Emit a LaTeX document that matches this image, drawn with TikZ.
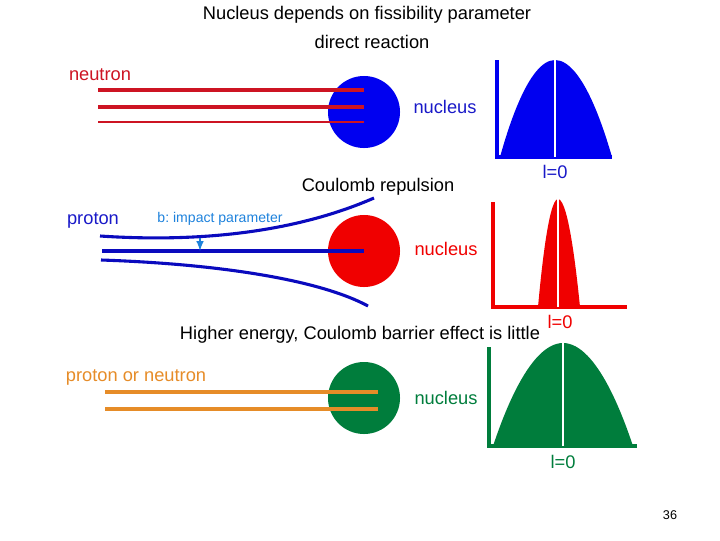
\documentclass[tikz,border=0pt]{standalone}
\usepackage{fontspec}
\setmainfont{Liberation Sans}
\usepackage{tikz}
\usetikzlibrary{positioning}
\usetikzlibrary{arrows}
\usetikzlibrary{math}

\definecolor{nucblue}{RGB}{0,0,240}
\definecolor{trkblue}{RGB}{10,10,190}
\definecolor{txtblue}{RGB}{25,25,200}
\definecolor{impblue}{RGB}{30,130,220}
\definecolor{nucred}{RGB}{240,0,0}
\definecolor{trkred}{RGB}{205,20,35}
\definecolor{nucgreen}{RGB}{0,125,60}
\definecolor{trkorange}{RGB}{230,140,40}

\frenchspacing
\begin{document}
\begin{tikzpicture}[x=0.025cm,y=-0.025cm,
    font=\fontsize{13}{15}\selectfont,
    nuc/.style={circle,inner sep=0pt,minimum size=1.8cm},
    beam/.style={line width=2.6pt},
    axisline/.style={line width=2.2pt},
    cutline/.style={white,line width=1.6pt}]
      \tikzmath{
        \yA = 157; \yB = 307; \yC = 446;
      }
      \useasboundingbox (0,0) rectangle (720,540);

      \node (Title) at (367,15) {Nucleus depends on fissibility parameter};

      % direct reaction
      \node (DirLabel) at (372,42) {direct reaction};
      \node[text=trkred] (NLabel) at (100,75) {neutron};
      \node[nuc,fill=nucblue] (NucA) at (364,112) {};
      \node[text=txtblue] (NucALabel) at (445,107) {nucleus};
      \coordinate (A1) at (98,90);
      \coordinate (A2) at (98,107);
      \coordinate (A3) at (98,122);
      \draw[beam, trkred] (A1) -- (A1 -| NucA);
      \draw[beam, trkred] (A2) -- (A2 -| NucA);
      \draw[trkred, line width=2pt] (A3) -- (A3 -| NucA);

      \fill[nucblue] (500,\yA) parabola bend (555,60) (612,\yA) -- cycle;
      \draw[axisline, nucblue] (497,60) |- (612,\yA);
      \draw[cutline] (555,60) -- (555,\yA);
      \node[text=txtblue] (LA) at (555,172) {l=0};

      % Coulomb repulsion
      \node (CouLabel) at (378,187) {Coulomb repulsion};
      \node[text=txtblue] (PLabel) at (93,220) {proton};
      \node[text=impblue, font=\fontsize{10}{12}\selectfont] (BLabel) at (220,219) {b: impact parameter};
      \node[nuc,fill=nucred] (NucB) at (364,251) {};
      \node[text=nucred] (NucBLabel) at (446,249) {nucleus};
      \coordinate (B1) at (100,236);
      \coordinate (B1e) at (374,198);
      \coordinate (B2) at (102,251);
      \coordinate (B3) at (101,260);
      \coordinate (B3e) at (368,306);
      \draw[trkblue, line width=2.2pt] (B1) .. controls (220,244) and (310,226) .. (B1e);
      \draw[trkblue, line width=2.2pt] (B2) -- (B2 -| NucB);
      \draw[trkblue, line width=2.2pt] (B3) .. controls (220,264) and (320,280) .. (B3e);
      \coordinate (BTop) at (200,238);
      \draw[impblue, line width=1.4pt, -latex] (BTop) -- (BTop |- B2);

      \fill[nucred] (538,\yB) parabola bend (558,199) (580,\yB) -- cycle;
      \draw[axisline, nucred] (493,202) |- (627,\yB);
      \draw[cutline] (558,199) -- (558,\yB);
      \node[text=nucred] (LB) at (560,322) {l=0};

      % higher energy
      \node (HiLabel) at (360,335) {Higher energy, Coulomb barrier effect is little};
      \node[text=trkorange] (PNLabel) at (136,377) {proton or neutron};
      \node[nuc,fill=nucgreen] (NucC) at (364,398) {};
      \node[text=nucgreen] (NucCLabel) at (446,398) {nucleus};
      \coordinate (C1) at (105,392);
      \coordinate (C2) at (105,409);
      \draw[beam, trkorange] (C1) -- (C1 -| 378,0);
      \draw[beam, trkorange] (C2) -- (C2 -| 378,0);

      \fill[nucgreen] (493,\yC) parabola bend (563,343) (633,\yC) -- cycle;
      \draw[axisline, nucgreen] (489,347) |- (637,\yC);
      \draw[cutline] (563,343) -- (563,\yC);
      \node[text=nucgreen] (LC) at (563,462) {l=0};

      \node[font=\fontsize{9}{11}\selectfont] (Page) at (670,515) {36};
\end{tikzpicture}
\end{document}
